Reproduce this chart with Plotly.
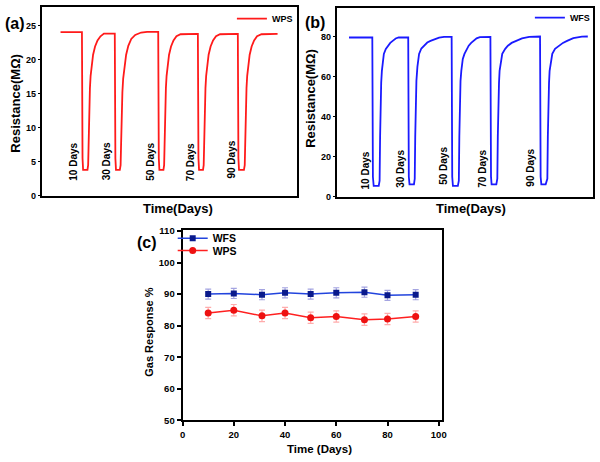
import plotly.graph_objects as go

# ---------------- data ----------------
# (a) WPS resistance transient (time in arbitrary units, R in MOhm)
ta = [18.3, 40.0, 40.6, 41.2, 45.6, 46.3, 46.7, 47.1, 47.6, 48.1, 48.8, 49.8, 51.3, 53.3, 55.8, 58.8, 62.3, 72.6,
      73.3, 73.9, 74.5, 78.4, 79.2, 79.6, 80.0, 80.5, 81.0, 81.8, 83.0, 84.8, 87.0, 90.0, 94.0, 100.0, 106.0, 116.7,
      117.3, 117.9, 118.5, 122.6, 123.3, 123.7, 124.1, 124.6, 125.1, 125.8, 126.8, 128.3, 130.3, 132.8, 135.8, 140.0, 156.8,
      157.5, 158.1, 158.7, 162.7, 163.4, 163.8, 164.2, 164.7, 165.2, 165.9, 166.9, 168.4, 170.4, 172.9, 175.9, 180.0, 197.3,
      198.0, 198.6, 199.2, 204.2, 205.0, 205.4, 205.8, 206.3, 206.8, 207.5, 208.5, 210.0, 212.0, 214.5, 217.5, 222.0, 238.3]
Ra = [24.0, 24.0, 5.5, 3.8, 3.8, 4.5, 7.0, 10.5, 13.5, 15.8, 17.6, 19.2, 20.7, 21.9, 22.8, 23.4, 23.8, 23.8,
      23.8, 5.5, 3.8, 3.8, 4.5, 7.0, 10.0, 13.0, 15.2, 17.2, 19.0, 20.7, 22.0, 23.0, 23.6, 23.95, 24.05, 24.05,
      24.05, 5.5, 3.8, 3.8, 4.5, 7.0, 10.5, 13.5, 15.8, 17.6, 19.2, 20.7, 21.9, 22.8, 23.4, 23.7, 23.75,
      23.75, 5.5, 3.8, 3.8, 4.5, 7.0, 10.5, 13.5, 15.8, 17.6, 19.2, 20.7, 21.9, 22.8, 23.4, 23.7, 23.75,
      23.75, 5.5, 3.8, 3.8, 4.5, 7.0, 10.5, 13.5, 15.8, 17.6, 19.2, 20.7, 21.9, 22.8, 23.4, 23.7, 23.75]

# (b) WFS resistance transient
tb = [11.7, 35.3, 35.9, 36.7, 41.8, 42.7, 43.2, 43.7, 44.3, 45.0, 46.0, 47.0, 49.0, 51.0, 53.5, 56.0, 59.0, 62.0, 71.0,
      71.7, 72.3, 73.0, 77.5, 78.3, 78.8, 79.3, 80.0, 81.0, 82.7, 85.0, 87.7, 91.0, 94.3, 99.0, 103.0, 108.0, 115.0,
      115.7, 116.3, 117.0, 122.0, 123.0, 123.5, 124.0, 124.7, 125.5, 127.0, 128.7, 131.0, 133.0, 135.5, 138.0, 141.0, 144.3, 154.3,
      155.0, 155.6, 156.2, 161.0, 162.0, 162.5, 163.0, 163.7, 164.3, 166.0, 167.0, 170.0, 172.7, 176.5, 181.0, 187.0, 194.3, 204.3,
      205.3, 205.9, 206.6, 211.0, 212.7, 213.2, 213.7, 214.4, 215.0, 216.5, 217.7, 220.5, 224.3, 228.5, 232.7, 239.0, 247.7, 253.7]
Rb = [79.7, 79.7, 10.0, 5.4, 5.4, 8.0, 30.0, 47.0, 57.0, 63.0, 68.0, 71.5, 74.0, 75.6, 77.0, 78.0, 79.2, 79.7, 79.8,
      79.8, 10.0, 6.2, 6.2, 9.0, 30.0, 47.0, 58.0, 65.0, 71.5, 74.2, 75.6, 77.2, 78.0, 79.0, 79.6, 80.0, 80.0,
      80.0, 10.0, 5.4, 5.4, 8.0, 30.0, 47.0, 58.0, 63.0, 69.0, 71.5, 74.0, 75.6, 77.0, 78.0, 79.3, 79.9, 80.0,
      80.0, 10.0, 6.2, 6.2, 9.0, 30.0, 47.0, 57.0, 63.0, 69.0, 71.5, 74.0, 75.6, 77.0, 78.0, 79.3, 80.0, 80.2,
      80.2, 10.0, 6.2, 6.2, 9.0, 30.0, 47.0, 57.0, 63.0, 69.0, 71.5, 74.0, 75.6, 77.0, 78.0, 79.4, 80.1, 80.2]

# cycle labels
cycle_labels = ["10 Days", "30 Days", "50 Days", "70 Days", "90 Days"]
label_t_a = [32, 65, 110, 150, 192]
label_R_a = [5.0, 5.0, 5.0, 5.0, 5.3]
label_t_b = [28, 64, 108, 147, 196]
label_R_b = [13.2, 13.8, 15.5, 13.8, 14.5]

# (c) gas response vs days
days = [10, 20, 31, 40, 50, 60, 71, 80, 91]
wfs = [90.0, 90.2, 89.8, 90.4, 90.0, 90.4, 90.6, 89.6, 89.8]
wps = [84.0, 84.9, 83.1, 84.0, 82.5, 82.9, 81.9, 82.1, 82.9]
wfs_err = [1.6, 1.6, 1.6, 1.6, 1.6, 1.6, 1.6, 1.6, 1.6]
wps_err = [1.8, 1.8, 1.8, 1.8, 1.8, 1.8, 1.8, 1.8, 1.8]

# ---------------- figure ----------------
W, H = 600, 462
FONT = "Liberation Sans, Arial, sans-serif"

def px(x):
    return x / W

def py(y):
    return 1 - y / H

fig = go.Figure()

fig.add_trace(go.Scatter(x=ta, y=Ra, mode="lines", name="WPS",
                         line=dict(color="#ff1a1a", width=1.8),
                         xaxis="x", yaxis="y", legend="legend"))
fig.add_trace(go.Scatter(x=tb, y=Rb, mode="lines", name="WFS",
                         line=dict(color="#1a1aff", width=1.8),
                         xaxis="x2", yaxis="y2", legend="legend2"))
fig.add_trace(go.Scatter(x=days, y=wfs, mode="lines+markers", name="WFS",
                         line=dict(color="#2244dd", width=1.5),
                         marker=dict(symbol="square", size=6, color="#0a1a8c"),
                         error_y=dict(type="data", array=wfs_err, color="rgba(90,90,200,0.55)",
                                      thickness=1.2, width=3),
                         xaxis="x3", yaxis="y3", legend="legend3"))
fig.add_trace(go.Scatter(x=days, y=wps, mode="lines+markers", name="WPS",
                         line=dict(color="#ff2020", width=1.5),
                         marker=dict(symbol="circle", size=7, color="#ee1111"),
                         error_y=dict(type="data", array=wps_err, color="rgba(255,90,90,0.5)",
                                      thickness=1.2, width=3),
                         xaxis="x3", yaxis="y3", legend="legend4"))

tickfont_ab = dict(family=FONT, size=9, color="black", weight="bold")
tickfont_c = dict(family=FONT, size=9.5, color="black", weight="bold")

common_ab = dict(showline=True, linecolor="black", linewidth=1.5, mirror=True,
                 showgrid=False, zeroline=False)

annotations = []
for lab, t, r in zip(cycle_labels, label_t_a, label_R_a):
    annotations.append(dict(x=t, y=r, xref="x", yref="y", text=lab, showarrow=False,
                            textangle=-90, font=dict(family=FONT, size=10, color="black", weight="bold")))
for lab, t, r in zip(cycle_labels, label_t_b, label_R_b):
    annotations.append(dict(x=t, y=r, xref="x2", yref="y2", text=lab, showarrow=False,
                            textangle=-90, font=dict(family=FONT, size=10, color="black", weight="bold")))

def ptext(text, x, y, size, angle=0):
    annotations.append(dict(x=px(x), y=py(y), xref="paper", yref="paper", text=text,
                            showarrow=False, textangle=angle, xanchor="center", yanchor="middle",
                            font=dict(family=FONT, size=size, color="black", weight="bold")))

ptext("(a)", 12, 19, 16)
ptext("(b)", 316, 18, 16)
ptext("(c)", 146, 243, 16)
ptext("Resistance(MΩ)", 13, 100, 13, -90)
ptext("Time(Days)", 177, 208, 13)
ptext("Resistance(MΩ)", 312, 95, 13, -90)
ptext("Time(Days)", 474, 208, 13)
ptext("Gas Response %", 148, 335, 11, -90)
ptext("Time (Days)", 321, 454, 11.5)

legfont = dict(family=FONT, size=9, color="black", weight="bold")
legfont_c = dict(family=FONT, size=10.5, color="black", weight="bold")

fig.update_layout(
    width=W, height=H, margin=dict(l=0, r=0, t=0, b=0),
    paper_bgcolor="white", plot_bgcolor="white",
    showlegend=True,
    xaxis=dict(domain=[px(40), px(298)], range=[0, 258], showticklabels=False, ticks="",
               **common_ab),
    yaxis=dict(domain=[py(195), py(2)], range=[0, 27.7], tickvals=[0, 5, 10, 15, 20, 25],
               ticks="outside", ticklen=3, tickwidth=1.2, tickcolor="black",
               tickfont=tickfont_ab, **common_ab),
    xaxis2=dict(domain=[px(339), px(598)], range=[0, 259], showticklabels=False, ticks="",
                anchor="y2", **common_ab),
    yaxis2=dict(domain=[py(196), py(3)], range=[0, 94.5], tickvals=[0, 20, 40, 60, 80],
                ticks="outside", ticklen=3, tickwidth=1.2, tickcolor="black",
                anchor="x2", tickfont=tickfont_ab, **common_ab),
    xaxis3=dict(domain=[px(182), px(445)], range=[0, 101.3], tickvals=[0, 20, 40, 60, 80, 100],
                ticks="outside", ticklen=4, tickwidth=1.5, tickcolor="black", anchor="y3",
                showline=True, linecolor="black", linewidth=2, mirror=True,
                showgrid=False, zeroline=False, tickfont=tickfont_c),
    yaxis3=dict(domain=[py(424.5), py(230)], range=[50, 110.3], tickvals=[50, 60, 70, 80, 90, 100, 110],
                ticks="outside", ticklen=4, tickwidth=1.5, tickcolor="black", anchor="x3",
                showline=True, linecolor="black", linewidth=2, mirror=True,
                showgrid=False, zeroline=False, tickfont=tickfont_c),
    legend=dict(x=px(232), y=py(14), xanchor="left", yanchor="middle", bgcolor="rgba(0,0,0,0)",
                font=legfont, borderwidth=0),
    legend2=dict(x=px(534), y=py(13), xanchor="left", yanchor="middle", bgcolor="rgba(0,0,0,0)",
                 font=legfont, borderwidth=0),
    legend3=dict(x=px(172), y=py(238.5), xanchor="left", yanchor="middle", bgcolor="rgba(0,0,0,0)",
                 font=legfont_c, borderwidth=0),
    legend4=dict(x=px(172), y=py(251), xanchor="left", yanchor="middle", bgcolor="rgba(0,0,0,0)",
                 font=legfont_c, borderwidth=0),
    annotations=annotations,
)

fig.write_html("out.html")
